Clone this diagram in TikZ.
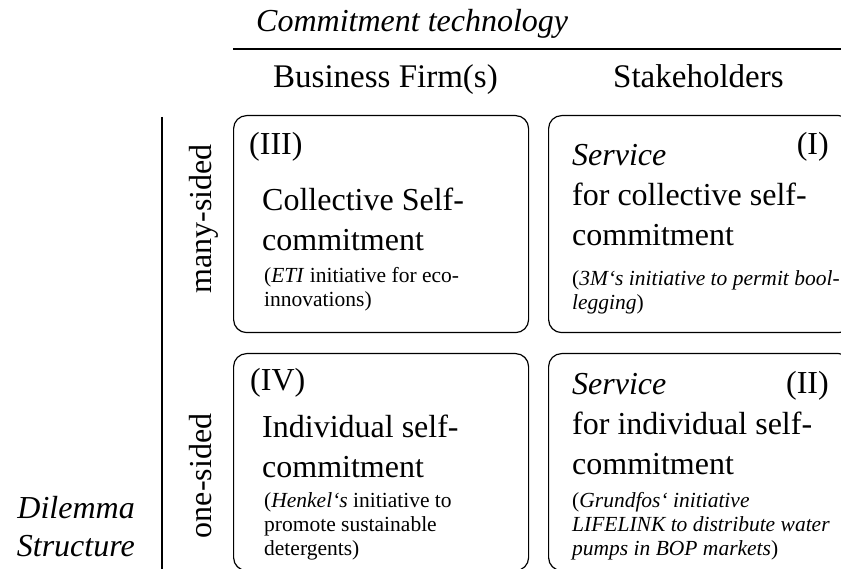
\documentclass[tikz,border=0pt]{standalone}
\usepackage{fontspec}
\setmainfont{Liberation Serif}
\begin{document}
\begin{tikzpicture}[x=1pt,y=-1pt,
  cell/.style={draw, line width=1.2pt, rounded corners=13pt, inner sep=0pt, anchor=north west, minimum height=217pt},
  big/.style={font=\fontsize{32}{40}\selectfont, inner sep=0pt, align=left},
  head/.style={font=\fontsize{33}{40}\selectfont, inner sep=0pt, anchor=base west},
  small/.style={font=\fontsize{21.5}{24}\selectfont, inner sep=0pt, align=left}]
\useasboundingbox (0,0) rectangle (841,569);
\clip (0,0) rectangle (841,569);

% header
\node[big, anchor=base west] (tech) at (256,32) {\textit{Commitment technology}};
\coordinate (rulel) at (233,49);
\coordinate (ruler) at (841,49);
\draw[line width=1.5pt] (rulel) -- (ruler);
\node[head] (firm) at (273,88) {Business Firm(s)};
\node[head] (stake) at (613,88) {Stakeholders};

% dilemma structure
\coordinate (axtop) at (162,117);
\coordinate (axbot) at (162,569);
\draw[line width=1.2pt] (axtop) -- (axbot);
\node[big, rotate=90, anchor=base] (many) at (211,219) {many-sided};
\node[big, rotate=90, anchor=base] (one) at (211,476) {one-sided};
\node[big, anchor=base east] (dil) at (135,518) {\textit{Dilemma}};
\node[big, anchor=base east] (struc) at (135,556) {\textit{Structure}};

% the four cells
\node[cell, minimum width=295pt] (c3) at (233,115) {};
\node[cell, minimum width=303pt] (c1) at (548,115) {};
\node[cell, minimum width=295pt] (c4) at (233,353) {};
\node[cell, minimum width=303pt] (c2) at (548,353) {};

% (III)
\node[big, anchor=base west] (n3) at (249,155) {(III)};
\node[big, anchor=north west] (h3) at (262,188) {Collective Self-\\commitment};
\node[small, anchor=north west] (e3) at (264,267) {(\textit{ETI} initiative for eco-\\innovations)};

% (I)
\node[big, anchor=base east] (n1) at (829,155) {(I)};
\node[big, anchor=north west] (h1) at (572,144) {\textit{Service}\\for collective self-\\commitment};
\node[small, anchor=north west] (e1) at (572,270) {(\textit{3M‘s initiative to permit bool-}\\\textit{legging})};

% (IV)
\node[big, anchor=base west] (n4) at (250,390) {(IV)};
\node[big, anchor=north west] (h4) at (262,415) {Individual self-\\commitment};
\node[small, anchor=north west] (e4) at (264,492) {(\textit{Henkel‘s} initiative to\\promote sustainable\\detergents)};

% (II)
\node[big, anchor=base east] (n2) at (829,393) {(II)};
\node[big, anchor=north west] (h2) at (572,373) {\textit{Service}\\for individual self-\\commitment};
\node[small, anchor=north west] (e2) at (572,492) {(\textit{Grundfos‘ initiative}\\\textit{LIFELINK to distribute water}\\\textit{pumps in BOP markets})};
\end{tikzpicture}
\end{document}
